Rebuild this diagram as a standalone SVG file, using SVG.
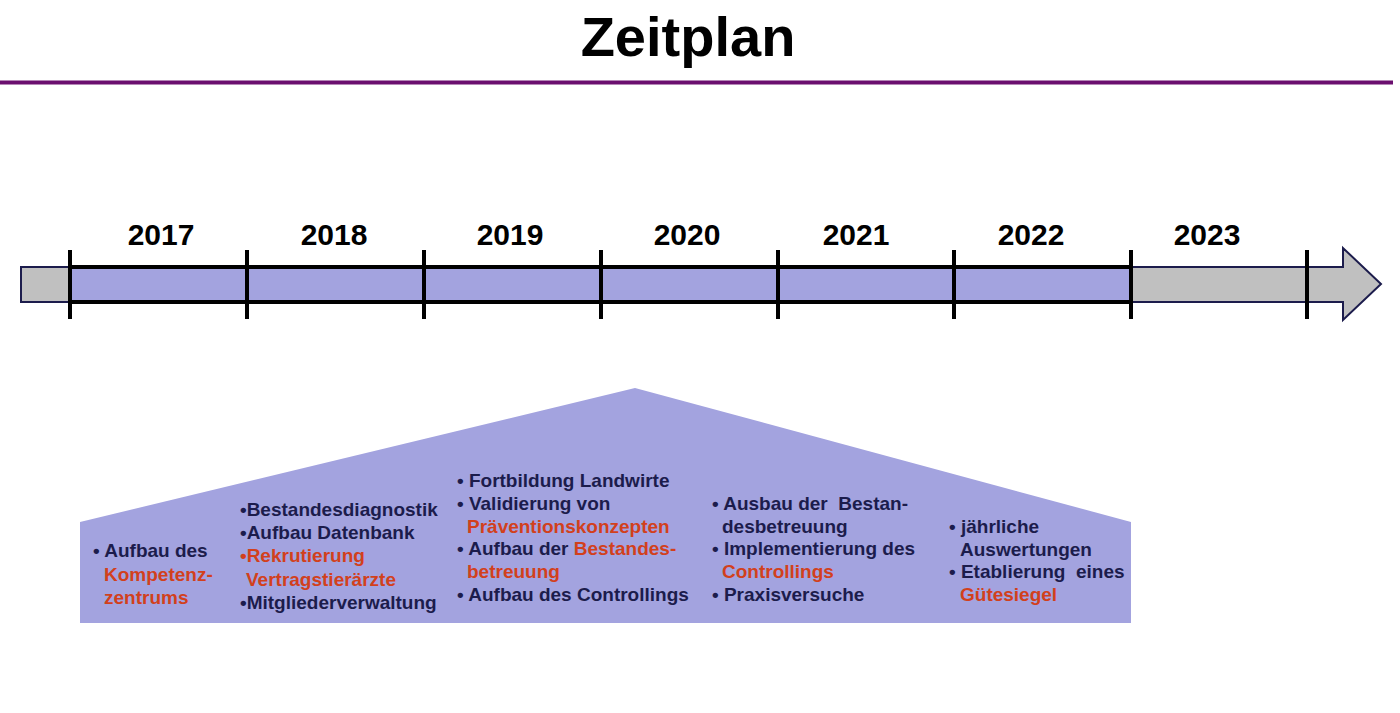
<svg xmlns="http://www.w3.org/2000/svg" width="1400" height="713" viewBox="0 0 1400 713">
<style>
.title{font-family:"Liberation Sans",Arial,sans-serif;font-weight:bold;font-size:56px;fill:#000;text-anchor:middle}
.year{font-family:"Liberation Sans",Arial,sans-serif;font-weight:bold;font-size:30px;fill:#000;text-anchor:middle}
.t{font-family:"Liberation Sans",Arial,sans-serif;font-weight:bold;font-size:19px;fill:#1c1c4c}
.r{fill:#d2401c}
.tick{stroke:#000;stroke-width:4}
</style>
<rect width="1400" height="713" fill="#fff"/>
<g id="header">
<text class="title" x="688" y="56">Zeitplan</text>
<line x1="0" y1="82.5" x2="1393" y2="82.5" stroke="#6b0f6f" stroke-width="4"/>
</g>
<g id="timeline">
<rect x="21" y="267" width="49" height="35" fill="#c0c0c0" stroke="#1c1c4c" stroke-width="2"/>
<path d="M1131 267 H1343 V248 L1381 284 L1343 320 V302 H1131 Z" fill="#c0c0c0" stroke="#1c1c4c" stroke-width="2"/>
<rect x="70" y="267" width="1061" height="35" fill="#a3a3df"/>
<line x1="70" y1="267" x2="1131" y2="267" stroke="#000" stroke-width="4"/>
<line x1="70" y1="302" x2="1131" y2="302" stroke="#000" stroke-width="4"/>
<line class="tick" x1="70" y1="250" x2="70" y2="319"/>
<line class="tick" x1="247" y1="250" x2="247" y2="319"/>
<line class="tick" x1="424" y1="250" x2="424" y2="319"/>
<line class="tick" x1="601" y1="250" x2="601" y2="319"/>
<line class="tick" x1="778" y1="250" x2="778" y2="319"/>
<line class="tick" x1="954" y1="250" x2="954" y2="319"/>
<line class="tick" x1="1131" y1="250" x2="1131" y2="319"/>
<line class="tick" x1="1307" y1="250" x2="1307" y2="319"/>
<text class="year" x="161" y="245">2017</text>
<text class="year" x="334" y="245">2018</text>
<text class="year" x="510" y="245">2019</text>
<text class="year" x="687" y="245">2020</text>
<text class="year" x="856" y="245">2021</text>
<text class="year" x="1031" y="245">2022</text>
<text class="year" x="1207" y="245">2023</text>
</g>
<g id="detail">
<polygon points="80,522 635,388 1131,522 1131,623 80,623" fill="#a3a3df"/>
</g>
<g id="col2017">
<text class="t" x="93" y="557">• Aufbau des</text>
<text class="t r" x="104" y="581">Kompetenz-</text>
<text class="t r" x="104" y="604">zentrums</text>
</g>
<g id="col2018">
<text class="t" x="240" y="516">•Bestandesdiagnostik</text>
<text class="t" x="240" y="539">•Aufbau Datenbank</text>
<text class="t r" x="240" y="562">•Rekrutierung</text>
<text class="t r" x="246" y="586">Vertragstierärzte</text>
<text class="t" x="240" y="609">•Mitgliederverwaltung</text>
</g>
<g id="col2019">
<text class="t" x="457" y="487">• Fortbildung Landwirte</text>
<text class="t" x="457" y="510">• Validierung von</text>
<text class="t r" x="467" y="533">Präventionskonzepten</text>
<text class="t" x="457" y="555">• Aufbau der <tspan class="r">Bestandes-</tspan></text>
<text class="t r" x="467" y="578">betreuung</text>
<text class="t" x="457" y="601">• Aufbau des Controllings</text>
</g>
<g id="col2020">
<text class="t" x="712" y="510" xml:space="preserve">• Ausbau der  Bestan-</text>
<text class="t" x="722" y="533">desbetreuung</text>
<text class="t" x="712" y="555">• Implementierung des</text>
<text class="t r" x="722" y="578">Controllings</text>
<text class="t" x="712" y="601">• Praxisversuche</text>
</g>
<g id="col2021">
<text class="t" x="949" y="533">• jährliche</text>
<text class="t" x="960" y="556">Auswertungen</text>
<text class="t" x="949" y="578" xml:space="preserve">• Etablierung  eines</text>
<text class="t r" x="960" y="601">Gütesiegel</text>
</g>
</svg>
